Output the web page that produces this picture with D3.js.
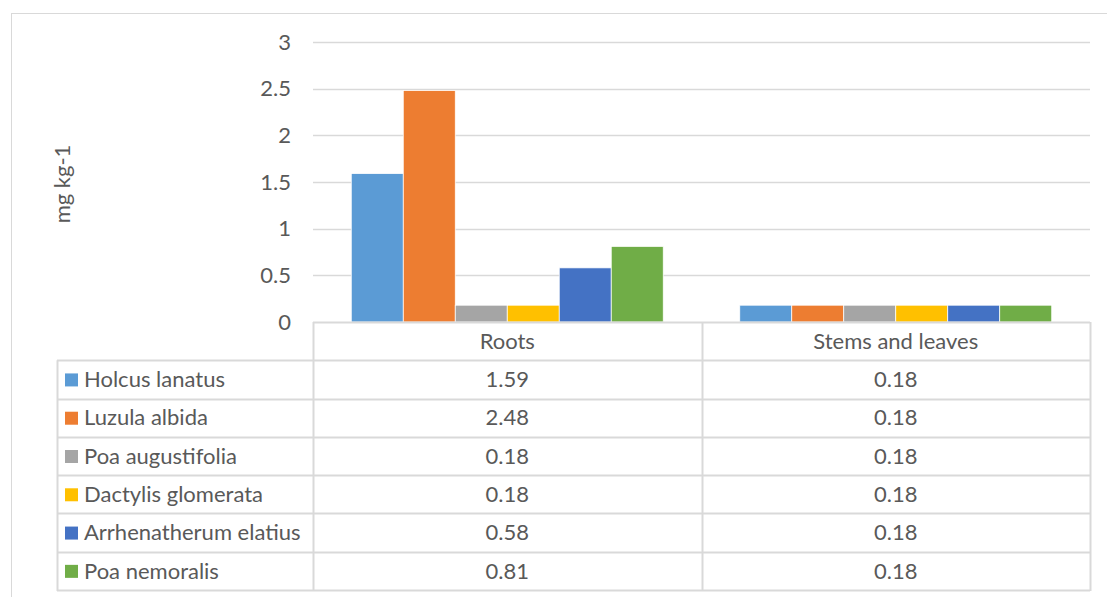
<!DOCTYPE html>
<html>
<head>
<meta charset="utf-8">
<script src="https://cdn.jsdelivr.net/npm/d3@7"></script>
<style>
  html, body { margin: 0; padding: 0; background: #fff; }
  svg { display: block; }
  text { font-family: Lato, "Open Sans", sans-serif; fill: #595959; }
</style>
</head>
<body>
<svg id="chart" width="1107" height="597"></svg>
<script>
const categories = ["Roots", "Stems and leaves"];
const seriesNames = ["Holcus lanatus", "Luzula albida", "Poa augustifolia", "Dactylis glomerata", "Arrhenatherum elatius", "Poa nemoralis"];
const seriesColors = ["#5B9BD5", "#ED7D31", "#A5A5A5", "#FFC000", "#4472C4", "#70AD47"];
const rootsValues = [1.59, 2.48, 0.18, 0.18, 0.58, 0.81];
const stemsValues = [0.18, 0.18, 0.18, 0.18, 0.18, 0.18];
const valueLabels = [["1.59", "0.18"], ["2.48", "0.18"], ["0.18", "0.18"], ["0.18", "0.18"], ["0.58", "0.18"], ["0.81", "0.18"]];
const yTicks = [0, 0.5, 1, 1.5, 2, 2.5, 3];
const yTitle = "mg kg-1";

const svg = d3.select("#chart");
const gridColor = "#d9d9d9";
const fontSize = 22;

// outer chart border (extends beyond the picture on right/bottom)
svg.append("rect").attr("x", 11.5).attr("y", 13.5).attr("width", 1120).attr("height", 620)
  .attr("fill", "none").attr("stroke", gridColor).attr("stroke-width", 1);

const plotLeft = 313, plotRight = 1090, plotTop = 42, plotBottom = 322;
const y = d3.scaleLinear().domain([0, 3]).range([plotBottom, plotTop]);
const x0 = d3.scaleBand().domain(categories).range([plotLeft, plotRight]).paddingInner(0).paddingOuter(0);
const x1 = d3.scaleBand().domain(seriesNames).range([0, x0.bandwidth()]).paddingInner(0).paddingOuter(0.736);

// gridlines
svg.append("g").selectAll("line").data(yTicks.filter(t => t > 0)).join("line")
  .attr("x1", plotLeft).attr("x2", plotRight)
  .attr("y1", d => Math.round(y(d)) + 0.5).attr("y2", d => Math.round(y(d)) + 0.5)
  .attr("stroke", gridColor).attr("stroke-width", 1.3);

// y axis labels via d3 axis
const yAxis = d3.axisLeft(y).tickValues(yTicks).tickSize(0).tickPadding(0).tickFormat(d => String(d));
const gy = svg.append("g").attr("transform", `translate(${plotLeft - 22},0)`).call(yAxis);
gy.select(".domain").remove();
gy.selectAll("text").attr("font-size", fontSize).attr("fill", "#595959")
  .style("font-family", "Lato, 'Open Sans', sans-serif");

// y title
svg.append("text").attr("transform", `translate(70,${(plotTop + plotBottom) / 2 + 2}) rotate(-90)`)
  .attr("text-anchor", "middle").attr("font-size", fontSize).text(yTitle);

// bars
const dataByCat = [rootsValues, stemsValues];
const gBars = svg.append("g");
categories.forEach((cat, ci) => {
  gBars.append("g").attr("transform", `translate(${x0(cat)},0)`)
    .selectAll("rect").data(dataByCat[ci].map((v, i) => ({ v, name: seriesNames[i], color: seriesColors[i] })))
    .join("rect")
    .attr("x", d => x1(d.name)).attr("width", x1.bandwidth())
    .attr("y", d => y(d.v)).attr("height", d => y(0) - y(d.v))
    .attr("fill", d => d.color).attr("stroke", "#fff").attr("stroke-width", 0.75);
});

// data table
const tableLeft = 57;
const rowH = (590 - plotBottom) / 7;
const tg = svg.append("g");
tg.append("line").attr("x1", plotLeft).attr("x2", plotRight).attr("y1", plotBottom + 0.5).attr("y2", plotBottom + 0.5)
  .attr("stroke", gridColor).attr("stroke-width", 2);
for (let r = 1; r <= 7; r++) {
  const yy = Math.round(plotBottom + r * rowH) + 0.5;
  tg.append("line").attr("x1", tableLeft).attr("x2", plotRight).attr("y1", yy).attr("y2", yy)
    .attr("stroke", gridColor).attr("stroke-width", 2);
}
const vlines = [
  { x: tableLeft, top: plotBottom + rowH },
  { x: plotLeft, top: plotBottom },
  { x: x0(categories[1]), top: plotBottom },
  { x: plotRight, top: plotBottom }
];
vlines.forEach(v => {
  tg.append("line").attr("x1", Math.round(v.x) + 0.5).attr("x2", Math.round(v.x) + 0.5)
    .attr("y1", v.top).attr("y2", Math.round(plotBottom + 7 * rowH) + 1)
    .attr("stroke", gridColor).attr("stroke-width", 2);
});
categories.forEach(cat => {
  tg.append("text").attr("x", x0(cat) + x0.bandwidth() / 2).attr("y", plotBottom + rowH / 2)
    .attr("dy", "0.35em").attr("text-anchor", "middle").attr("font-size", fontSize).text(cat);
});
seriesNames.forEach((name, i) => {
  const cy = plotBottom + (i + 1.5) * rowH;
  tg.append("rect").attr("x", 65).attr("y", cy - 6).attr("width", 13).attr("height", 13).attr("fill", seriesColors[i]);
  tg.append("text").attr("x", 84).attr("y", cy).attr("dy", "0.35em").attr("font-size", fontSize).text(name);
  categories.forEach((cat, ci) => {
    tg.append("text").attr("x", x0(cat) + x0.bandwidth() / 2).attr("y", cy).attr("dy", "0.35em")
      .attr("text-anchor", "middle").attr("font-size", fontSize).text(valueLabels[i][ci]);
  });
});
</script>
</body>
</html>
